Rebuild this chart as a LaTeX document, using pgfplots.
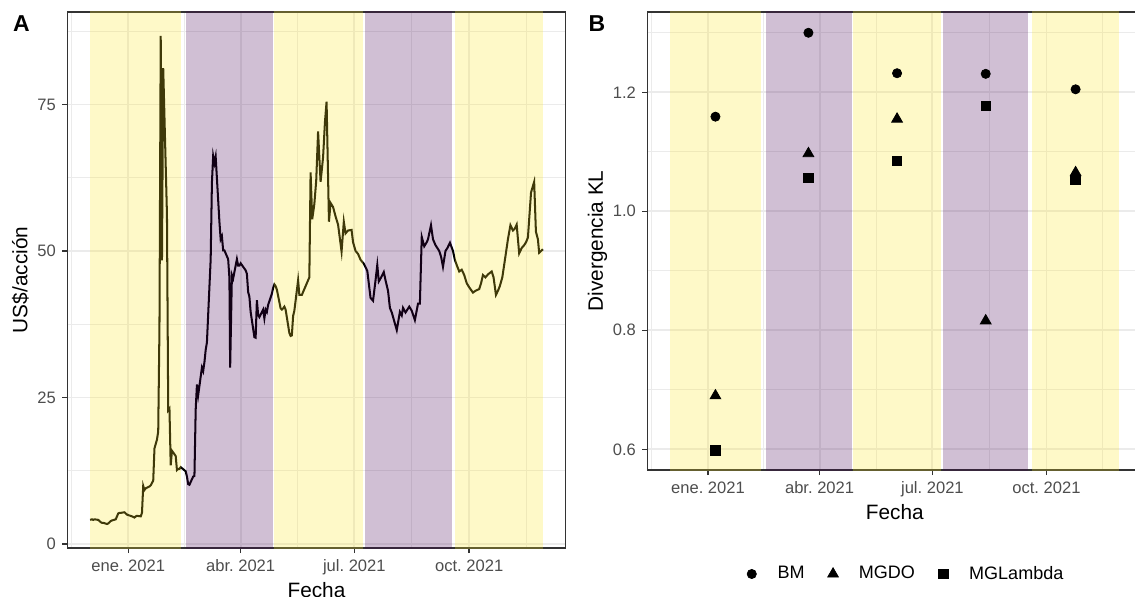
\documentclass[border=0pt]{standalone}
\usepackage{fontspec}
\setmainfont{Liberation Sans}
\usepackage{pgfplots}
\pgfplotsset{compat=1.18}
\definecolor{vyellow}{HTML}{FDE725}
\definecolor{vpurple}{HTML}{440154}
\definecolor{grid92}{HTML}{EBEBEB}
\definecolor{g20}{HTML}{333333}
\definecolor{g30}{HTML}{4D4D4D}
\frenchspacing
\pgfplotsset{
  ggbase/.style={
    scale only axis,
    axis line style={g20, line width=0.8pt},
    tick align=outside, xtick pos=bottom, ytick pos=left,
    major tick length=2.75pt, minor tick length=0pt,
    tick style={g20, line width=0.8pt},
    grid=both,
    major grid style={grid92, line width=1.0pt},
    minor grid style={grid92, line width=0.5pt},
    ticklabel style={font=\fontsize{9}{10}\selectfont, text=g30},
    label style={font=\fontsize{11.3}{13}\selectfont},
    /pgf/number format/assume math mode=true,
    xmin=-48.8, xmax=350.2,
    xtick={0,90,181,273},
    xticklabels={ene. 2021, abr. 2021, jul. 2021, oct. 2021},
    minor xtick={-45.5,45,135.5,227,318.5},
    clip=true,
  },
  band/.style={draw=none, fill=#1, fill opacity=0.25, forget plot},
  keyimg/.style={legend image code/.code={\path[draw=none,fill=none] (0pt,0pt) -- (16pt,0pt); \draw[##1] plot coordinates {(4pt,0pt)};}},
}
\begin{document}
\frenchspacing
\begin{tikzpicture}
% ---------------- Panel A ----------------
\begin{axis}[ggbase,
  at={(36.58pt,26.09pt)}, anchor=south west,
  width=270.9pt, height=291.4pt,
  ymin=-0.7, ymax=90.8,
  ytick={0,25,50,75},
  minor ytick={12.5,37.5,62.5,87.5},
  xlabel={Fecha}, ylabel={US\$/acción},
  xlabel style={at={(axis description cs:0.5,-0.078)}, anchor=center},
  ylabel style={at={(axis description cs:-0.094,0.5)}, anchor=center},
]
\addplot[black, line width=1.1pt, forget plot] coordinates {
(-30.5,4.1)(-29,4.2)(-28,4.1)(-27,4.2)(-24,4.1)(-23,3.9)(-22,3.7)(-21,3.6)(-20,3.6)(-17,3.4)(-16,3.5)(-15,3.7)(-14,3.9)(-13,4.0)(-10,4.2)(-9,4.7)(-8,5.2)(-7,5.3)(-6,5.3)(-3,5.4)(-2,5.2)(-1,5.0)
(3,4.7)(4,4.6)(5,4.5)(6,4.7)(7,4.8)(10,4.7)(11,5.3)(12,9.9)(13,9.2)(14,9.5)(17,9.8)(18,10.0)(19,10.4)(20,10.8)(21,16.3)(23,17.8)(24,19.2)(25,37.0)(26,86.7)(27,48.4)(28,81.2)(31,56.2)(32,22.8)(33,23.1)(34,13.4)(35,15.9)(38,15.0)(39,12.6)(40,12.8)(41,12.8)(42,13.1)(46,12.4)(47,11.5)(48,10.2)(49,10.1)(52,11.5)(53,11.6)(54,22.9)(55,27.2)(56,25.4)(59,30.1)(60,29.5)(61,31.0)(62,33.1)(63,34.4)(66,48.6)(67,61.7)(68,66.2)(69,65.0)(70,66.1)(73,55.0)(74,52.0)(75,52.5)(76,50.1)(77,50.1)(80,48.6)(81,45.4)(81.6,30.1)(83,45.9)(84,45.3)(87,48.6)(88,47.5)(89,47.5)(90,47.9)(94,46.7)(95,46.1)(96,43.0)(97,42.2)(98,39.6)(101,35.3)(102,35.2)(103,41.6)(104,39.1)(105,38.7)(108,40.0)(109,38.5)(110,40.0)(111,39.6)(112,40.8)(115,42.7)(116,43.7)(117,44.3)(118,44.0)(119,43.4)(122,40.2)(123,40.0)(124,40.2)(125,40.5)(126,40.0)(129,36.0)(130,35.5)(131,35.6)(132,38.9)(133,39.8)
(136,45.0)(137,42.5)(139,42.5)(141,43.5)(143,44.5)(145,45.5)(146,63.4)(147.3,55.4)(149,58.0)(150.5,62.0)(152,70.4)(153,66.0)(154,61.8)(156,66.0)(157.5,72.0)(158.8,75.5)(160.7,55.0)(162,58.2)(164,57.5)(166,55.9)(168,54.5)(170.8,49.9)(172.6,55.0)(174,53.0)(176,53.5)(178.8,53.6)(180,51.5)(182,50.0)(184,49.5)(186,48.5)(188.7,47.8)(191.4,46.6)(194,42.0)(196,41.5)(198,45.0)(199.4,47.6)(200.6,44.8)(202.5,45.5)(204.6,46.4)(206,45.0)(208,43.2)(209.5,40.3)(211,39.5)(213,38.0)(215,36.5)(217.5,39.6)(219,39.0)(220,40.3)(222,39.5)(225,40.5)(227,39.8)(229.5,38.2)(232,41.0)(233.5,41.0)
(235,52.4)(237,50.8)(239,51.5)(240,52.0)(242.4,54.4)(244,52.0)(246,51.0)(249,50.0)(250.5,49.0)(252,47.3)(254,50.0)(255.5,50.5)(257.6,51.4)(260,50.0)(261.5,48.5)(263,47.6)(265,46.5)(267,46.8)(269,45.9)(271,44.5)(273,43.8)(276,42.9)(278,43.2)(281,43.5)(282.5,44.5)(284,45.9)(286,45.5)(288,46.0)(291,46.5)(292.5,45.5)(294.4,42.5)(296,43.2)(297.5,44.0)(299.5,45.5)(301.6,48.5)(304,52.0)(306,54.4)(308,53.5)(309.5,53.8)(311,54.5)(313,49.6)(315,50.5)(317,51.0)(318.5,51.5)(320,52.3)(322.5,60.0)(325,61.8)(326.4,53.3)(328,52.0)(329,49.7)(332,50.3)
};
\addplot[band=vyellow] coordinates {(-30.5,-10)(42.4,-10)(42.4,100)(-30.5,100)};
\addplot[band=vpurple] coordinates {(46.4,-10)(116.3,-10)(116.3,100)(46.4,100)};
\addplot[band=vyellow] coordinates {(116.8,-10)(188.3,-10)(188.3,100)(116.8,100)};
\addplot[band=vpurple] coordinates {(189.6,-10)(259,-10)(259,100)(189.6,100)};
\addplot[band=vyellow] coordinates {(262,-10)(332,-10)(332,100)(262,100)};
\end{axis}
% ---------------- Panel B ----------------
\begin{axis}[ggbase,
  at={(351.98pt,68.49pt)}, anchor=south west,
  width=268.9pt, height=249.0pt,
  ymin=0.5652, ymax=1.335,
  ytick={0.6,0.8,1.0,1.2}, yticklabels={0.6,0.8,1.0,1.2},
  minor ytick={0.7,0.9,1.1,1.3},
  xlabel={Fecha}, ylabel={Divergencia KL},
  xlabel style={at={(axis description cs:0.5,-0.0917)}, anchor=center},
  ylabel style={at={(axis description cs:-0.101,0.5)}, anchor=center},
  legend style={at={(axis description cs:0.522,-0.227)}, anchor=center, draw=none, fill=none,
    legend columns=3, font=\fontsize{9.8}{10}\selectfont,
    /tikz/every even column/.append style={column sep=9.5pt}},
]
\addplot[only marks, mark=*, mark size=2.5pt, black, keyimg] coordinates {(6,1.159)(81,1.300)(152.5,1.232)(224,1.231)(296.5,1.205)};
\addlegendentry{BM}
\addplot[only marks, mark=triangle*, mark size=3.4pt, black, keyimg] coordinates {(6,0.690)(81,1.097)(152.5,1.155)(224,0.816)(296.5,1.065)};
\addlegendentry{MGDO}
\addplot[only marks, mark=square*, mark size=2.6pt, black, keyimg] coordinates {(6,0.598)(81,1.056)(152.5,1.085)(224,1.177)(296.5,1.053)};
\addlegendentry{MGLambda}
\addplot[band=vyellow] coordinates {(-30.5,0)(42.4,0)(42.4,2)(-30.5,2)};
\addplot[band=vpurple] coordinates {(46.4,0)(116,0)(116,2)(46.4,2)};
\addplot[band=vyellow] coordinates {(116.8,0)(188,0)(188,2)(116.8,2)};
\addplot[band=vpurple] coordinates {(189.3,0)(258.5,0)(258.5,2)(189.3,2)};
\addplot[band=vyellow] coordinates {(261.5,0)(331.5,0)(331.5,2)(261.5,2)};
\end{axis}
\node[font=\fontsize{12.5}{14}\bfseries] at (11.69pt,310.94pt) {A};
\node[font=\fontsize{12.5}{14}\bfseries] at (324.53pt,311.21pt) {B};
\pgfresetboundingbox
\path[use as bounding box] (0pt,0pt) rectangle (616.99pt,323.99pt);
\end{tikzpicture}
\end{document}
